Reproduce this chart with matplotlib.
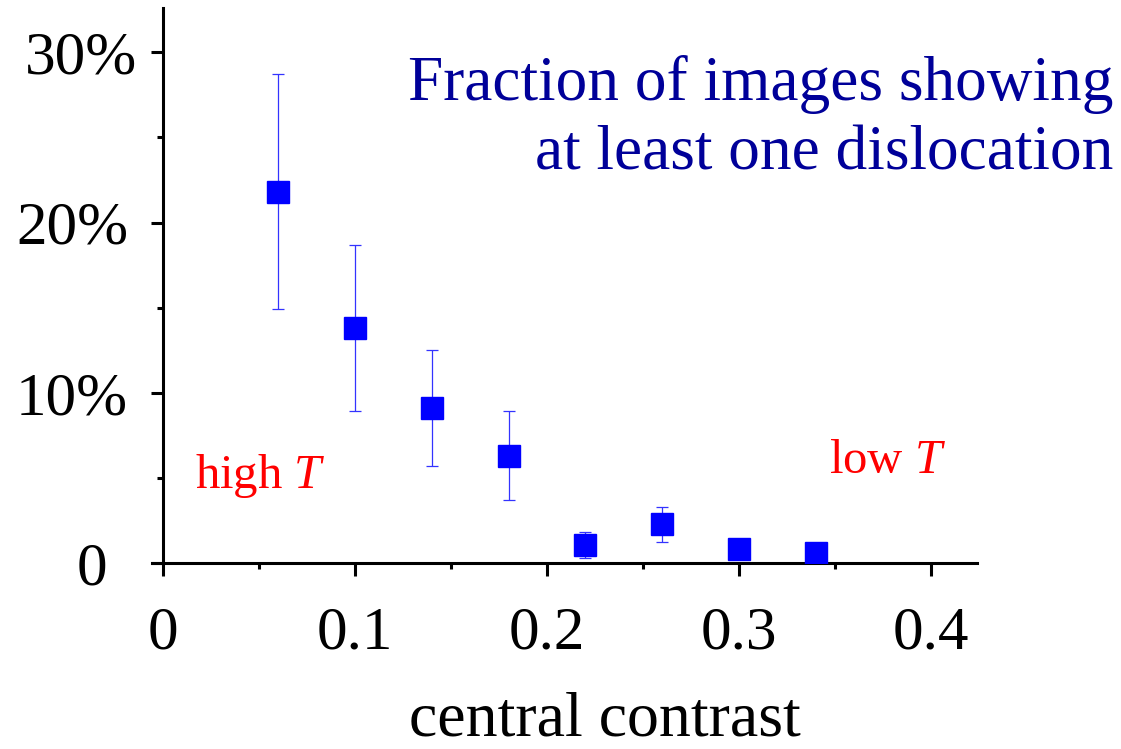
import numpy as np
import matplotlib
matplotlib.use('Agg')
import matplotlib.pyplot as plt
from matplotlib.transforms import ScaledTranslation

plt.rcParams['font.family'] = ['Liberation Serif', 'DejaVu Serif']
plt.rcParams['mathtext.fontset'] = 'custom'
plt.rcParams['mathtext.rm'] = 'Liberation Serif'
plt.rcParams['mathtext.it'] = 'Liberation Serif:italic'

# central contrast vs. percentage of images with >= 1 dislocation
contrast = [0.06, 0.10, 0.14, 0.18, 0.22, 0.26, 0.30, 0.34]
fraction = [21.8, 13.8, 9.1, 6.3, 1.07, 2.27, 0.84, 0.61]
err_lo = [14.9, 8.9, 5.7, 3.7, 0.27, 1.21, 0.55, 0.35]
err_hi = [28.7, 18.7, 12.5, 8.9, 1.84, 3.27, 1.15, 0.90]

x_ticks = [0, 0.1, 0.2, 0.3, 0.4]
x_labels = ['0', '0.1', '0.2', '0.3', '0.4']
y_ticks = [0, 10, 20, 30]
y_labels = ['0', '10%', '20%', '30%']

W, H = 1121, 749
fig = plt.figure(figsize=(W / 100, H / 100), dpi=100)
ax = fig.add_axes([152 / W, 1 - 563 / H, (977 - 152) / W, (563 - 8) / H])

frac = np.array(fraction)
yerr = [frac - np.array(err_lo), np.array(err_hi) - frac]
ax.errorbar(contrast, fraction, yerr=yerr, fmt='none', ecolor='#3333ff',
            elinewidth=0.9, capsize=4.5, capthick=0.9, zorder=2)
ax.plot(contrast, fraction, 's', color='#0000ff', ms=15.5, mec='#0000ff', zorder=3)

ax.set_xlim(-0.0057, 0.424)
ax.set_ylim(0, 32.6)

for s in ['top', 'right']:
    ax.spines[s].set_visible(False)
ax.spines['left'].set_position(('data', 0))
ax.spines['left'].set_linewidth(2.2)
ax.spines['bottom'].set_linewidth(2.2)

ax.set_xticks(x_ticks)
ax.set_xticklabels(x_labels, fontsize=44)
ax.set_xticks([0.05, 0.15, 0.25, 0.35], minor=True)
ax.set_yticks(y_ticks)
ax.set_yticklabels(y_labels, fontsize=44)
ax.set_yticks([5, 15, 25], minor=True)
ax.tick_params(axis='both', which='major', length=9, width=2.2, direction='out')
ax.tick_params(axis='both', which='minor', length=4.5, width=2.2, direction='out')
ax.tick_params(axis='x', which='major', pad=22)
ax.tick_params(axis='y', which='major', pad=16)

# nudge a couple of y labels like the original
offsets = {0: -21, 3: 9}
for i, lab in enumerate(ax.get_yticklabels()):
    if i in offsets:
        lab.set_transform(lab.get_transform() +
                          ScaledTranslation(offsets[i] / 100, 0, fig.dpi_scale_trans))

ax.set_xlabel('central contrast', fontsize=46)
ax.xaxis.set_label_coords((605 - 152) / (977 - 152), -0.232)

fig.text(1113 / W, 1 - 100 / H, 'Fraction of images showing', fontsize=45.5,
         color='#000099', ha='right', va='baseline')
fig.text(1113 / W, 1 - 170 / H, 'at least one dislocation', fontsize=45.5,
         color='#000099', ha='right', va='baseline')

ax.text(0.0167, 4.4, 'high $T$', fontsize=35, color='#ff0000', va='baseline')
ax.text(0.347, 5.3, 'low $T$', fontsize=35, color='#ff0000', va='baseline')

fig.savefig('out.png', dpi=100)
